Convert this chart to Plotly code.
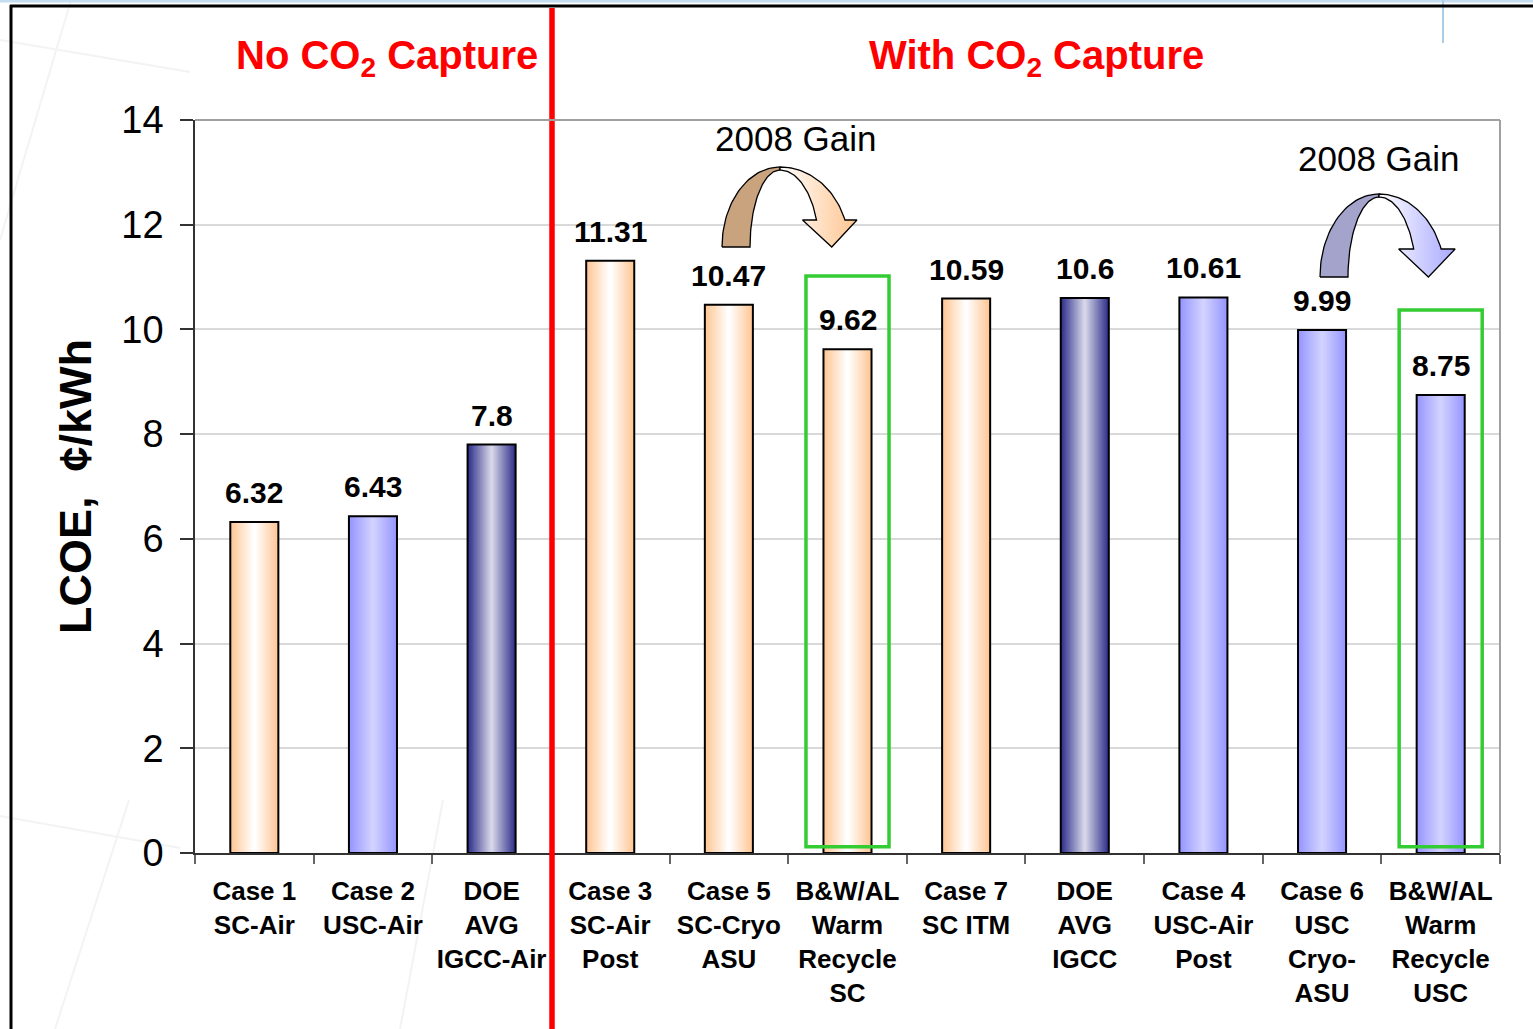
import numpy as np
import plotly.graph_objects as go

# ---- data -------------------------------------------------------------
categories = [
    "Case 1<br>SC-Air",
    "Case 2<br>USC-Air",
    "DOE<br>AVG<br>IGCC-Air",
    "Case 3<br>SC-Air<br>Post",
    "Case 5<br>SC-Cryo<br>ASU",
    "B&W/AL<br>Warm<br>Recycle<br>SC",
    "Case 7<br>SC ITM",
    "DOE<br>AVG<br>IGCC",
    "Case 4<br>USC-Air<br>Post",
    "Case 6<br>USC<br>Cryo-<br>ASU",
    "B&W/AL<br>Warm<br>Recycle<br>USC",
]
lcoe = [6.32, 6.43, 7.8, 11.31, 10.47, 9.62, 10.59, 10.6, 10.61, 9.99, 8.75]
bar_style = ["peach", "lavender", "navy", "peach", "peach", "peach",
             "peach", "navy", "lavender", "lavender", "lavender"]
highlighted = [5, 10]            # B&W/AL warm recycle cases
y_ticks = [0, 2, 4, 6, 8, 10, 12, 14]

FONT = "Liberation Sans, Arial, sans-serif"
W, H = 1533, 1029

# edge colour -> centre colour of each cylinder-shaded bar
PALETTE = {
    "peach": ((255, 198, 148), (255, 255, 255)),
    "lavender": ((150, 150, 255), (210, 210, 255)),
    "navy": ((48, 48, 140), (214, 214, 232)),
}


def mix(a, b, t):
    return "rgb({},{},{})".format(*[int(round(a[i] + (b[i] - a[i]) * t)) for i in range(3)])


fig = go.Figure()

# ---- bars: stacked narrower layers give a horizontal gradient ------------
BAR_W = 0.405
N = 18
for k in range(N):
    t = k / (N - 1)
    cols = [mix(PALETTE[s][0], PALETTE[s][1], t) for s in bar_style]
    fig.add_bar(x=categories, y=lcoe, width=BAR_W * (1 - k / N),
                marker=dict(color=cols, line=dict(width=0)),
                hoverinfo="skip", showlegend=False, xaxis="x", yaxis="y")
# outline drawn last so the top edge stays crisp
fig.add_bar(x=categories, y=lcoe, width=BAR_W,
            marker=dict(color="rgba(0,0,0,0)", line=dict(color="black", width=2)),
            hovertemplate="%{y}<extra></extra>", showlegend=False)

# value labels
for i, v in enumerate(lcoe):
    fig.add_annotation(x=i, y=v, text=f"<b>{v:g}</b>", showarrow=False,
                       xref="x", yref="y", yanchor="bottom", yshift=11,
                       font=dict(family=FONT, size=30, color="black"))

# green boxes around the highlighted bars
for i in highlighted:
    fig.add_shape(type="rect", xref="x", yref="y",
                  x0=i - 0.35, x1=i + 0.35, y0=0.12,
                  y1=lcoe[i] + (1.4 if i == 5 else 1.62),
                  line=dict(color="#33CC33", width=3.5), layer="above")


# ---- curved "2008 Gain" arrows, drawn in a pixel-space overlay -----------
def arch(cx, by, ro, ri, rlo, rli, ry_o, ry_i, head_h, head_out, head_in, tip_dx,
         back_col, grad_col):
    # back (left) half of the ribbon
    th = np.linspace(np.pi, np.pi / 2, 40)
    xo = cx + rlo * np.cos(th)
    yo = by - ry_o * np.sin(th)
    th2 = th[::-1]
    xi = cx + rli * np.cos(th2)
    yi = by - ry_i * np.sin(th2)
    fig.add_scatter(x=np.r_[xo, xi, xo[0]], y=np.r_[yo, yi, yo[0]],
                    xaxis="x2", yaxis="y2", mode="lines", fill="toself",
                    fillcolor=back_col, line=dict(color="black", width=1.3),
                    hoverinfo="skip", showlegend=False)
    # front (right) half with the arrow head
    te_o = np.arcsin(head_h / ry_o)
    te_i = np.arcsin(head_h / ry_i)
    tho = np.linspace(np.pi / 2, te_o, 40)
    thi = np.linspace(te_i, np.pi / 2, 40)
    xo = cx + ro * np.cos(tho)
    yo = by - ry_o * np.sin(tho)
    xi = cx + ri * np.cos(thi)
    yi = by - ry_i * np.sin(thi)
    yb = by - head_h
    head_x = [xo[-1] + head_out, (xo[-1] + xi[0]) / 2 + tip_dx, xi[0] - head_in]
    head_y = [yb, by, yb]
    px = np.r_[xo, head_x, xi, xo[0]]
    py = np.r_[yo, head_y, yi, yo[0]]
    fig.add_scatter(x=px, y=py, xaxis="x2", yaxis="y2", mode="lines",
                    fill="toself",
                    fillgradient=dict(type="horizontal",
                                      colorscale=[[0, "#FFFFFF"], [1, grad_col]]),
                    line=dict(color="black", width=1.3),
                    hoverinfo="skip", showlegend=False)


arch(780, 247, 69, 39, 58, 30, 80, 77, 27, 12, 14, 1, "#C9A27E", "#FFC48E")
arch(1379, 277, 66, 37, 59, 31, 83, 80, 28, 14, 15, 1, "#A3A3CB", "#A8A8FF")

# ---- text in pixel space -------------------------------------------------
pix = dict(xref="x2", yref="y2", showarrow=False)
fig.add_annotation(x=387, y=58, text="<b>No CO<sub>2</sub> Capture</b>",
                   font=dict(family=FONT, size=40, color="#FF0000"), **pix)
fig.add_annotation(x=1036, y=58, text="<b>With CO<sub>2</sub> Capture</b>",
                   font=dict(family=FONT, size=40, color="#FF0000"), **pix)
fig.add_annotation(x=796, y=138, text="2008 Gain",
                   font=dict(family=FONT, size=35, color="black"), **pix)
fig.add_annotation(x=1379, y=158, text="2008 Gain",
                   font=dict(family=FONT, size=35, color="black"), **pix)
fig.add_annotation(x=75, y=487, text="<b>LCOE,  ¢/kWh</b>", textangle=-90,
                   font=dict(family=FONT, size=45, color="black"), **pix)

# ---- frame, divider and faint background strokes -------------------------
def pline(x0, y0, x1, y1, color, width, layer="above"):
    fig.add_shape(type="line", xref="paper", yref="paper",
                  x0=x0 / W, x1=x1 / W, y0=1 - y0 / H, y1=1 - y1 / H,
                  line=dict(color=color, width=width), layer=layer)


for (a, b, c, d) in [(71, 0, 0, 240), (129, 800, 55, 1029), (443, 800, 400, 1029),
                     (0, 816, 180, 848), (0, 40, 190, 72)]:
    pline(a, b, c, d, "#F3F3F3", 2, "below")

pline(0, 1, W, 1, "#C5DDF0", 3)
pline(1443, 0, 1443, 43, "#A9CEEA", 2)
pline(10, 6, W, 6, "black", 3)
pline(11, 5, 11, H, "black", 3)
pline(552, 8, 552, H, "#FF0000", 5.5)

# plot-area top and right edges
fig.add_shape(type="line", xref="x domain", yref="y domain", x0=0, x1=1, y0=1, y1=1,
              line=dict(color="#A0A0A0", width=2), layer="above")
fig.add_shape(type="line", xref="x domain", yref="y domain", x0=1, x1=1, y0=0, y1=1,
              line=dict(color="#A0A0A0", width=2), layer="above")

fig.update_layout(
    width=W, height=H,
    margin=dict(l=0, r=0, t=0, b=0, pad=0, autoexpand=False),
    paper_bgcolor="white",
    plot_bgcolor="rgba(0,0,0,0)",
    barmode="overlay",
    showlegend=False,
    font=dict(family=FONT, color="black"),
    xaxis=dict(
        domain=[195 / W, 1500 / W], anchor="y", automargin=False,
        type="category", categoryorder="array", categoryarray=categories,
        range=[-0.5, len(categories) - 0.5],
        showline=True, linecolor="#333333", linewidth=2,
        ticks="outside", tickson="boundaries", ticklen=9, tickcolor="#666666",
        tickwidth=1.5, ticklabelstandoff=14, tickangle=0,
        tickfont=dict(family=FONT, size=26, color="black", weight="bold"),
        showgrid=False, zeroline=False, fixedrange=True,
    ),
    yaxis=dict(
        domain=[1 - 853 / H, 1 - 120 / H], anchor="x", automargin=False,
        range=[0, 14], tickvals=y_ticks,
        showline=True, linecolor="#333333", linewidth=1.5,
        ticks="outside", ticklen=13, tickcolor="#333333", tickwidth=1.5,
        ticklabelstandoff=9,
        tickfont=dict(family=FONT, size=38, color="black"),
        showgrid=True, gridcolor="#D9D9D9", gridwidth=1.5,
        zeroline=False, fixedrange=True,
    ),
    xaxis2=dict(domain=[0, 1], range=[0, W], anchor="y2", visible=False,
                automargin=False, fixedrange=True),
    yaxis2=dict(domain=[0, 1], range=[H, 0], anchor="x2", visible=False,
                automargin=False, fixedrange=True),
)

fig.write_html("out.html")
